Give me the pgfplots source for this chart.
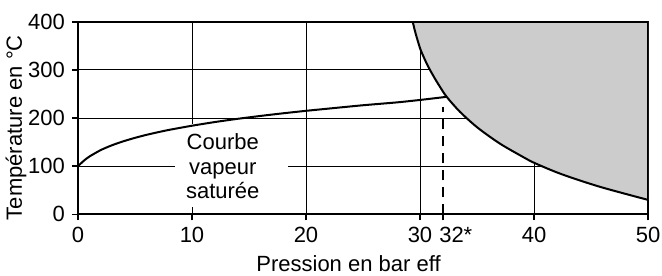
\documentclass[border=0pt]{standalone}
\usepackage{pgfplots}
\pgfplotsset{compat=1.18}
\usepackage{fontspec}
\setmainfont{Liberation Sans}
\begin{document}
\begin{tikzpicture}
\begin{axis}[
  scale only axis, width=285pt, height=96.3pt,
  xmin=0, xmax=50, ymin=0, ymax=400,
  xtick={0,10,20,30,40,50},
  xticklabels={0,10,20,{30\hspace{7pt}},40,50},
  ytick={0,100,200,300,400},
  extra x ticks={32}, extra x tick labels={{\hspace{13pt}32*}}, extra x tick style={grid=none},
  grid=major, major grid style={black, line width=0.5pt},
  tick pos=left, tick align=outside, major tick length=3pt,
  tick style={black, line width=0.8pt},
  axis line style={line width=1pt},
  font=\fontsize{11}{13}\selectfont,
  tick label style={font=\fontsize{11}{13}\selectfont},
  /pgf/number format/assume math mode=true,
  xlabel={Pression en bar eff}, ylabel={Température en °C},
  xlabel style={at={(axis description cs:0.4746,0)}, anchor=base, yshift=-28.5pt},
  ylabel style={at={(axis description cs:-0.1088,0.45)}, anchor=center},
]
\fill[white] (axis cs:8.5,15) rectangle (axis cs:18.4,187);
\addplot[fill=gray!40, draw=none] coordinates {
(29.36,400) (29.61,376) (30.0,345) (30.15,336) (30.65,310) (31.23,285) (31.72,266) (32.34,244) (33.5,213) (35.05,180) (37.0,147) (38.97,120) (40.1,106) (42.46,83) (45.8,57) (50,30) (50,400)} -- cycle;
\addplot[black, line width=1pt, smooth, tension=0.5] coordinates {
(29.36,400) (29.61,376) (30.0,345) (30.15,336) (30.65,310) (31.23,285) (31.72,266) (32.34,244) (33.5,213) (35.05,180) (37.0,147) (38.97,120) (40.1,106) (42.46,83) (45.8,57) (50,30)};
\addplot[black, line width=1pt, smooth, tension=0.4] coordinates {
(0,100) (0.5,111) (1,120) (2,133.5) (3,143.6) (4,151.8) (5,158.8) (6,165) (7,170.4) (8,175.4) (10,184) (12,191.6) (14,198.3) (16,204.3) (18,209.8) (20,214.9) (22,219.6) (25,226.5) (28,232.5) (30,237.5) (32.34,244)};
\addplot[black, line width=1pt, dash pattern=on 5pt off 3.5pt] coordinates {(32.05,0) (32.05,223)};
\node[align=center, inner sep=0pt, font=\fontsize{11}{12.25}\selectfont] at (axis cs:12.7,100) {Courbe\\vapeur\\saturée};
\draw[line width=1pt] (rel axis cs:0,0) rectangle (rel axis cs:1,1);
\end{axis}
\pgfresetboundingbox
\path[use as bounding box] (-39pt,-30.35pt) rectangle (292pt,107.15pt);
\end{tikzpicture}
\end{document}
